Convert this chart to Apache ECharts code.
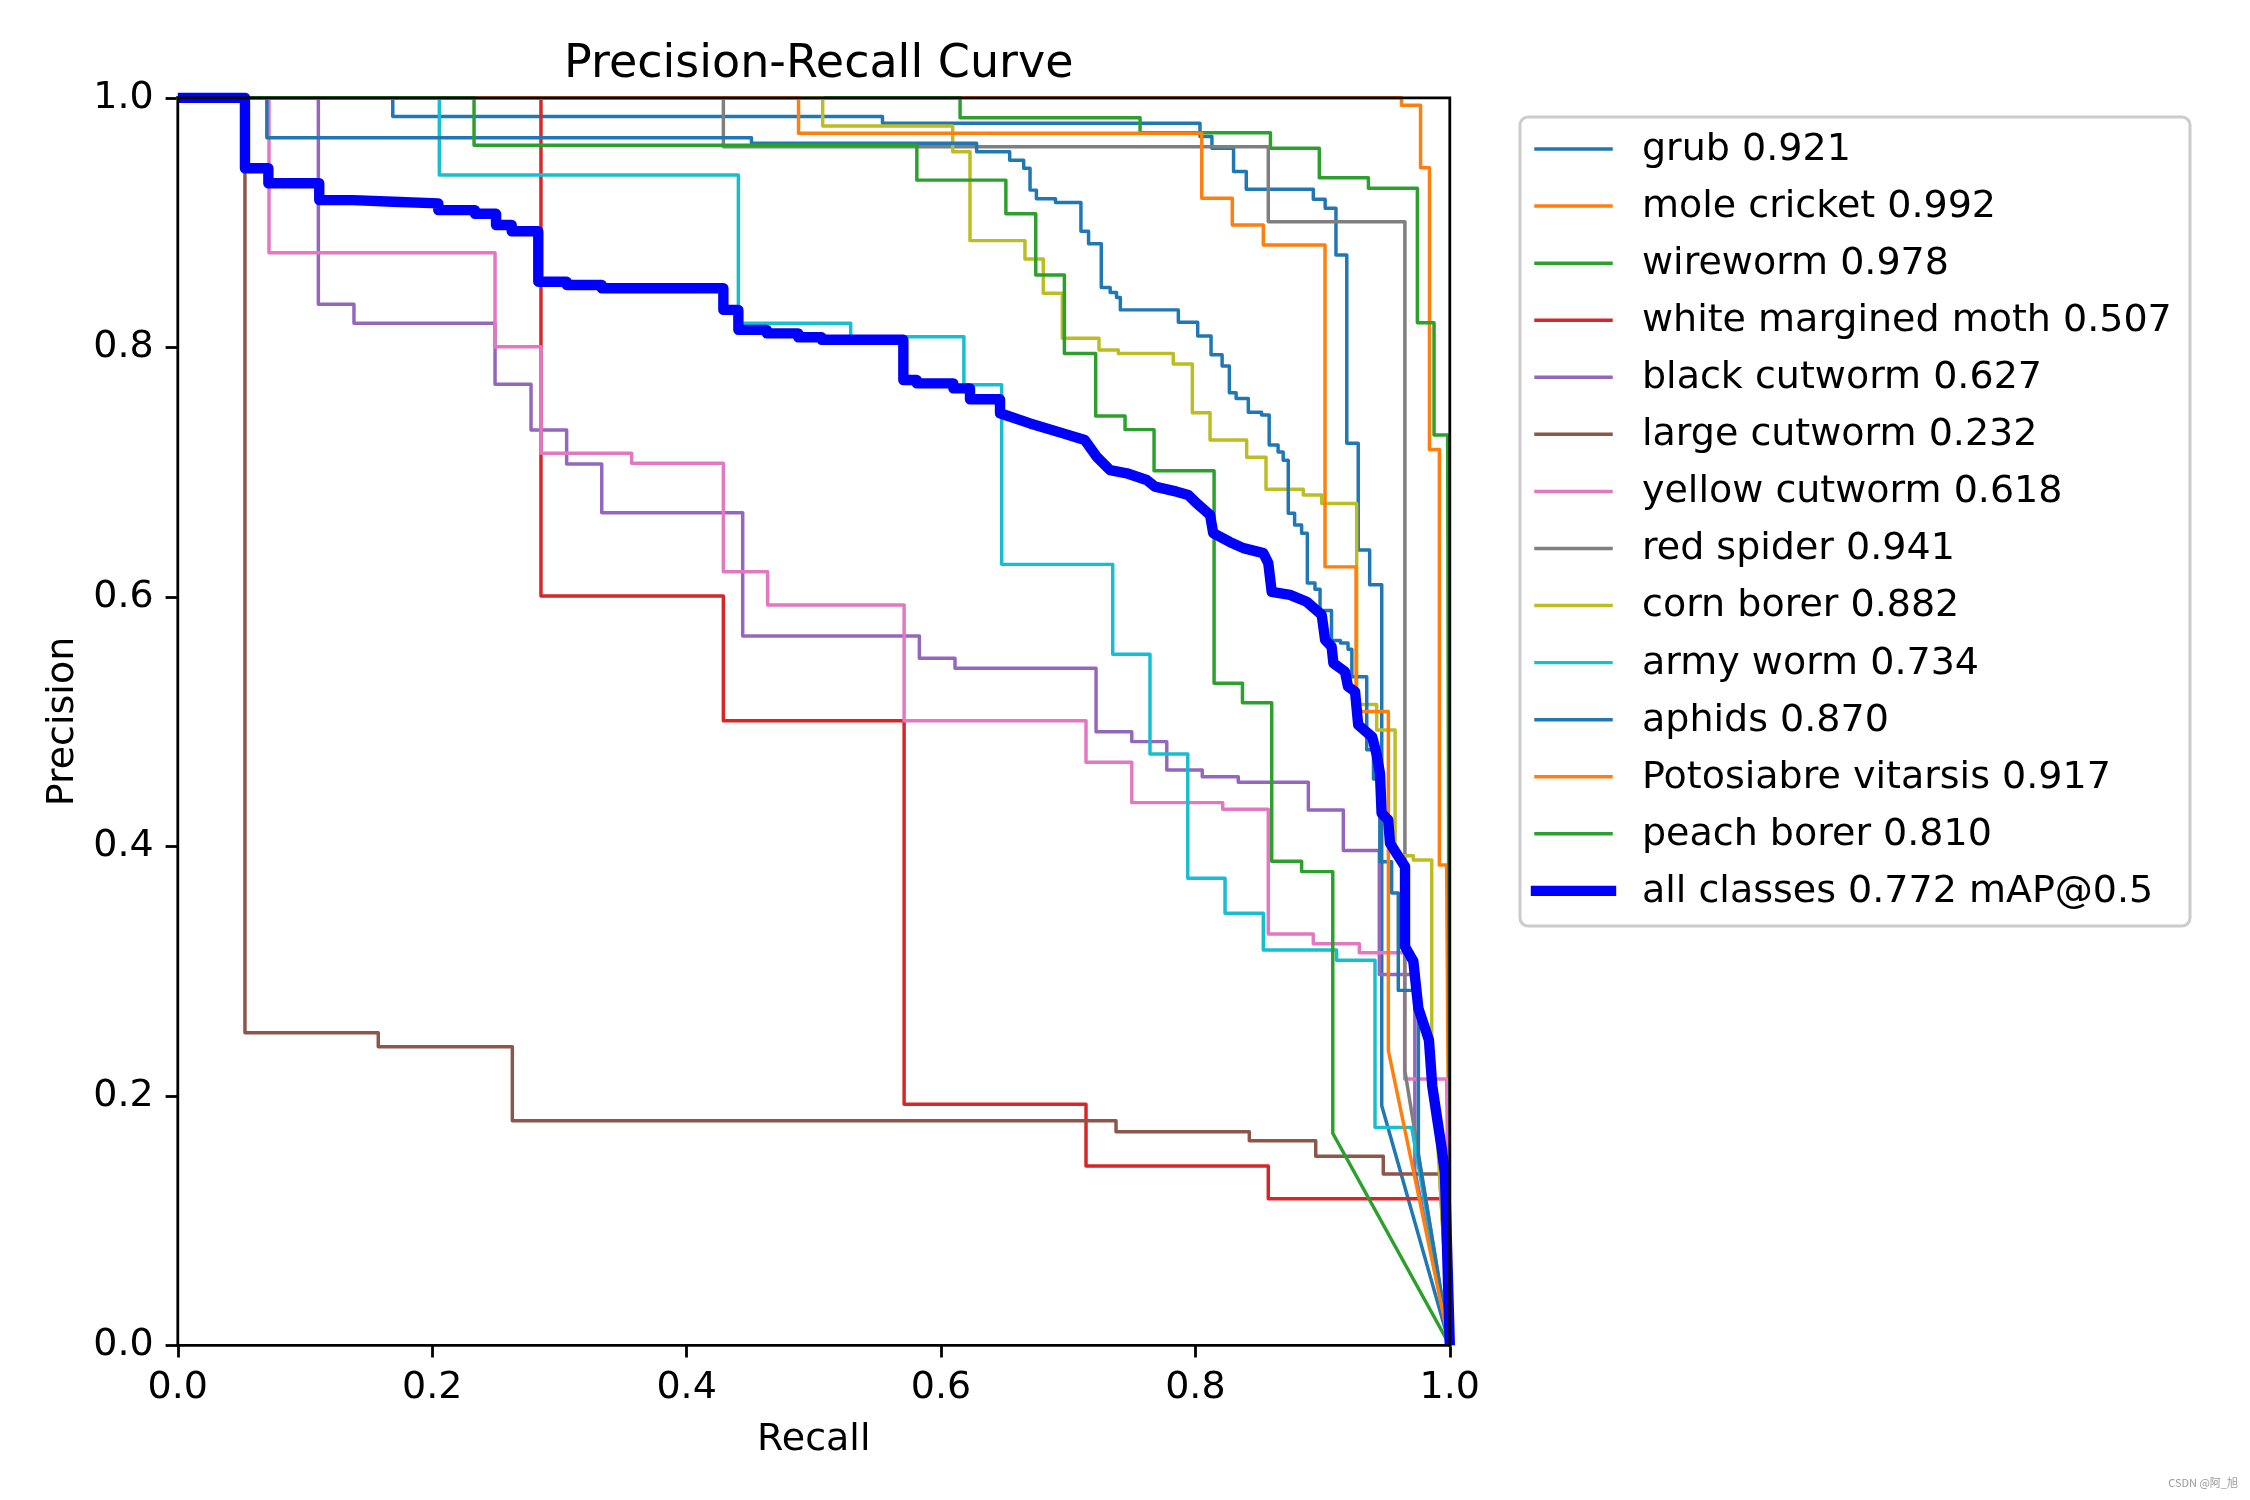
<!DOCTYPE html>
<html>
<head>
<meta charset="utf-8">
<script src="https://cdn.jsdelivr.net/npm/echarts@6/dist/echarts.min.js"></script>
<style>
  html, body { margin: 0; padding: 0; background: #ffffff; }
  #chart { width: 2250px; height: 1500px; }
</style>
</head>
<body>
<div id="chart"></div>
<script>
// ---------------- DATA ----------------
// Each class curve: list of [recall, precision] steps: at `recall` the precision drops to `precision`.
// Curves start at (0, 1); after the last step they hold until the end recall, then run straight to (1, 0).
const classNames = ['grub', 'mole cricket', 'wireworm', 'white margined moth', 'black cutworm',
  'large cutworm', 'yellow cutworm', 'red spider', 'corn borer', 'army worm', 'aphids',
  'Potosiabre vitarsis', 'peach borer'];
const classAP = ['0.921', '0.992', '0.978', '0.507', '0.627', '0.232', '0.618', '0.941',
  '0.882', '0.734', '0.870', '0.917', '0.810'];
const allClassesLabel = 'all classes 0.772 mAP@0.5';
const tickLabels = ['0.0', '0.2', '0.4', '0.6', '0.8', '1.0'];

const grubSteps = [[0.169, 0.985], [0.554, 0.9796], [0.8036, 0.969], [0.813, 0.9595], [0.830, 0.941],
  [0.840, 0.9267], [0.8927, 0.9186], [0.902, 0.9114], [0.9105, 0.874], [0.919, 0.723], [0.928, 0.6375],
  [0.937, 0.6096], [0.9465, 0.192]];
const moleCricketSteps = [[0.962, 0.994], [0.977, 0.944], [0.984, 0.718], [0.9918, 0.385]];
const wirewormSteps = [[0.615, 0.984], [0.7565, 0.972], [0.859, 0.9595], [0.8974, 0.936], [0.936, 0.9275],
  [0.9745, 0.8197], [0.9876, 0.7297]];
const mothSteps = [[0.2855, 0.6006], [0.4289, 0.5007], [0.571, 0.1932], [0.714, 0.1437], [0.8573, 0.1175]];
const blackCutwormSteps = [[0.1105, 0.8345], [0.1385, 0.8192], [0.2494, 0.7703], [0.2777, 0.7337],
  [0.3057, 0.7065], [0.3333, 0.6674], [0.4441, 0.5686], [0.583, 0.5507], [0.611, 0.5427], [0.7219, 0.4919],
  [0.750, 0.4839], [0.7775, 0.4612], [0.8054, 0.4558], [0.8337, 0.4513], [0.8888, 0.4291], [0.9163, 0.3966],
  [0.9446, 0.2973], [0.9725, 0.14]];
const largeCutwormSteps = [[0.0528, 0.2506], [0.1576, 0.2394], [0.263, 0.180], [0.7376, 0.1712],
  [0.8424, 0.164], [0.8946, 0.1516], [0.9477, 0.1373]];
const yellowCutwormSteps = [[0.0717, 0.8758], [0.2494, 0.8005], [0.2855, 0.715], [0.3568, 0.707],
  [0.4289, 0.620], [0.4637, 0.5934], [0.571, 0.5007], [0.714, 0.4673], [0.750, 0.435], [0.8215, 0.4297],
  [0.8573, 0.3297], [0.8927, 0.3219], [0.9289, 0.3147], [0.9645, 0.2135]];
const redSpiderSteps = [[0.4289, 0.9608], [0.8573, 0.9007], [0.9647, 0.2200]];
const cornBorerSteps = [[0.507, 0.9774], [0.6092, 0.9568], [0.6228, 0.8855], [0.666, 0.8708], [0.6804, 0.8433],
  [0.6954, 0.8072], [0.7242, 0.7978], [0.7394, 0.795], [0.7826, 0.7866], [0.7976, 0.7476], [0.8115, 0.7257],
  [0.8403, 0.7118], [0.8555, 0.6862], [0.8848, 0.6816], [0.8993, 0.6748], [0.9268, 0.5136], [0.9425, 0.4932],
  [0.957, 0.3925], [0.9713, 0.389], [0.9858, 0.24]];
const armyWormSteps = [[0.2056, 0.9381], [0.4407, 0.8192], [0.529, 0.8085], [0.618, 0.770], [0.6477, 0.626],
  [0.735, 0.554], [0.7643, 0.474], [0.794, 0.3744], [0.8233, 0.3463], [0.8534, 0.3169], [0.911, 0.3086],
  [0.9412, 0.1747]];
const aphidsSteps = [[0.070, 0.968], [0.451, 0.9636], [0.628, 0.9568], [0.654, 0.950], [0.665, 0.9435],
  [0.670, 0.926], [0.675, 0.919], [0.690, 0.916], [0.710, 0.893], [0.716, 0.883], [0.726, 0.848],
  [0.733, 0.844], [0.738, 0.840], [0.741, 0.830], [0.7866, 0.820], [0.8018, 0.809], [0.8123, 0.794],
  [0.821, 0.785], [0.8267, 0.7636], [0.832, 0.759], [0.8416, 0.748], [0.852, 0.7457], [0.858, 0.7217],
  [0.865, 0.716], [0.869, 0.7095], [0.873, 0.667], [0.878, 0.6575], [0.8835, 0.651], [0.888, 0.611],
  [0.894, 0.606], [0.898, 0.589], [0.907, 0.565], [0.914, 0.563], [0.920, 0.558], [0.923, 0.536],
  [0.9347, 0.4774], [0.940, 0.454], [0.945, 0.3876], [0.9543, 0.3626], [0.9595, 0.2845], [0.9753, 0.152]];
const potosiabreSteps = [[0.488, 0.9716], [0.805, 0.9195], [0.829, 0.898], [0.8534, 0.882], [0.9019, 0.624],
  [0.9263, 0.508], [0.9517, 0.2362]];
const peachBorerSteps = [[0.2329, 0.962], [0.581, 0.934], [0.651, 0.907], [0.6745, 0.858], [0.697, 0.795],
  [0.7216, 0.745], [0.7447, 0.734], [0.7675, 0.701], [0.8147, 0.5307], [0.837, 0.515], [0.860, 0.388],
  [0.8835, 0.3797], [0.908, 0.170]];

const classSteps = [grubSteps, moleCricketSteps, wirewormSteps, mothSteps, blackCutwormSteps,
  largeCutwormSteps, yellowCutwormSteps, redSpiderSteps, cornBorerSteps, armyWormSteps, aphidsSteps,
  potosiabreSteps, peachBorerSteps];
// recall where the last plateau ends (then straight to (1, 0))
const classEndRecall = [0.9465, 0.9975, 0.9983, 0.995, 0.9725, 0.992, 0.9975, 0.9647, 0.9858, 0.970,
  0.9753, 0.9517, 0.908];

// all classes mean curve, vertices as read
const allClasses = [[0, 1], [0.0528, 1], [0.0528, 0.9435], [0.0712, 0.9435], [0.0712, 0.9315],
  [0.1112, 0.9315], [0.1112, 0.918], [0.138, 0.918], [0.138, 0.9167], [0.1694, 0.9167], [0.1694, 0.9154],
  [0.2048, 0.9154], [0.2048, 0.910], [0.2336, 0.910], [0.2336, 0.907], [0.2502, 0.907], [0.2502, 0.898],
  [0.2625, 0.898], [0.2625, 0.893], [0.2834, 0.893], [0.2834, 0.8526], [0.3057, 0.8526], [0.3057, 0.850],
  [0.3333, 0.850], [0.3333, 0.8473], [0.4289, 0.8473], [0.4289, 0.830], [0.4407, 0.830], [0.4407, 0.814],
  [0.463, 0.814], [0.463, 0.8112], [0.4878, 0.8112], [0.4878, 0.808], [0.5062, 0.808], [0.5062, 0.806],
  [0.5704, 0.806], [0.5704, 0.7738], [0.5809, 0.7738], [0.5809, 0.7711], [0.6097, 0.7711], [0.6097, 0.7671],
  [0.6228, 0.7671], [0.6228, 0.7583], [0.6464, 0.7583], [0.6464, 0.7471], [0.670, 0.739], [0.696, 0.731],
  [0.713, 0.7257], [0.7224, 0.7123], [0.7329, 0.7016], [0.746, 0.699], [0.7617, 0.6936], [0.7682, 0.6883],
  [0.7853, 0.6843], [0.7944, 0.6816], [0.801, 0.675], [0.8115, 0.6656], [0.814, 0.651], [0.827, 0.644],
  [0.8377, 0.639], [0.8534, 0.635], [0.8573, 0.627], [0.860, 0.604], [0.8744, 0.6015], [0.8875, 0.596],
  [0.8993, 0.5855], [0.902, 0.5654], [0.9071, 0.560], [0.9085, 0.5467], [0.9176, 0.540], [0.920, 0.528],
  [0.9255, 0.524], [0.928, 0.4973], [0.9390, 0.4876], [0.9424, 0.474], [0.9451, 0.4585], [0.9464, 0.4265],
  [0.9516, 0.4211], [0.953, 0.4024], [0.958, 0.3944], [0.9648, 0.3837], [0.9648, 0.3195], [0.9713, 0.3080],
  [0.9753, 0.2700], [0.9836, 0.2447], [0.9862, 0.2079], [0.9901, 0.1814], [0.9936, 0.158], [0.9962, 0.138],
  [1.0, 0]];

// ---------------- STYLE ----------------
const tab10 = ['#1f77b4', '#ff7f0e', '#2ca02c', '#d62728', '#9467bd', '#8c564b', '#e377c2',
  '#7f7f7f', '#bcbd22', '#17becf'];
const FONT = 'DejaVu Sans';
const THIN = 3.47, THICK = 10.4;
const GRID = { left: 177.8, top: 97.8, width: 1272, height: 1247.5 };

function buildStepCurve(steps, endRecall) {
  const pts = [[0, 1]];
  let prev = 1;
  for (const [r, p] of steps) {
    pts.push([r, prev]);
    pts.push([r, p]);
    prev = p;
  }
  pts.push([endRecall, prev]);
  pts.push([1, 0]);
  return pts;
}

const series = classNames.map((name, i) => ({
  type: 'line',
  name: name + ' ' + classAP[i],
  data: buildStepCurve(classSteps[i], classEndRecall[i]),
  symbol: 'none',
  showSymbol: false,
  silent: true,
  animation: false,
  lineStyle: { color: tab10[i % 10], width: THIN, cap: 'square', join: 'round' },
  itemStyle: { color: tab10[i % 10] },
  z: 2
}));
series.push({
  type: 'line',
  name: allClassesLabel,
  data: allClasses,
  symbol: 'none',
  showSymbol: false,
  silent: true,
  animation: false,
  lineStyle: { color: '#0000ff', width: THICK, cap: 'butt', join: 'round' },
  itemStyle: { color: '#0000ff' },
  z: 3
});

// plot frame (spines) drawn above the curves, as in matplotlib
const graphics = [{
  type: 'rect',
  shape: { x: GRID.left, y: GRID.top, width: GRID.width, height: GRID.height },
  style: { fill: null, stroke: '#000', lineWidth: 2.8 },
  silent: true,
  z: 50
}];

// legend drawn as graphic elements (matplotlib-like box)
const legendLabels = classNames.map((n, i) => n + ' ' + classAP[i]).concat([allClassesLabel]);
const legendColors = classNames.map((n, i) => tab10[i % 10]).concat(['#0000ff']);
const LEG = { x: 1520, y: 117, w: 670, h: 809, hx0: 1536, hx1: 1611, tx: 1642, row0: 150, pitch: 57.07 };
graphics.push({
  type: 'rect',
  shape: { x: LEG.x, y: LEG.y, width: LEG.w, height: LEG.h, r: 8 },
  style: { fill: 'rgba(255,255,255,0.8)', stroke: '#cccccc', lineWidth: 3 },
  z: 10
});
legendLabels.forEach((lab, i) => {
  const yy = LEG.row0 + i * LEG.pitch;
  const thick = i === legendLabels.length - 1;
  graphics.push({
    type: 'line',
    shape: { x1: LEG.hx0, y1: yy - 1, x2: LEG.hx1, y2: yy - 1 },
    style: { stroke: legendColors[i], lineWidth: thick ? THICK : THIN, lineCap: 'square' },
    z: 11
  });
  graphics.push({
    type: 'text',
    style: { x: LEG.tx, y: yy, text: lab, fill: '#000', font: '38px "' + FONT + '"',
      textAlign: 'left', verticalAlign: 'middle', textVerticalAlign: 'middle' },
    z: 11
  });
});
graphics.push({
  type: 'text',
  style: { x: 2238, y: 1483, text: 'CSDN @阿_旭', fill: '#9a9a9a',
    font: '11px "Noto Sans CJK SC", "DejaVu Sans"', textAlign: 'right', verticalAlign: 'middle',
    textVerticalAlign: 'middle' },
  z: 11
});

const chart = echarts.init(document.getElementById('chart'), null, { renderer: 'canvas' });
chart.setOption({
  animation: false,
  backgroundColor: '#ffffff',
  textStyle: { fontFamily: FONT },
  title: {
    text: 'Precision-Recall Curve',
    left: GRID.left + GRID.width / 2,
    textAlign: 'center',
    top: 37,
    textStyle: { fontFamily: FONT, fontSize: 46, fontWeight: 'normal', color: '#000' }
  },
  grid: {
    left: GRID.left, top: GRID.top, width: GRID.width, height: GRID.height,
    show: false, containLabel: false, outerBoundsMode: 'none'
  },
  xAxis: {
    type: 'value', min: 0, max: 1, interval: 0.2,
    name: 'Recall', nameLocation: 'middle', nameGap: 76,
    nameTextStyle: { fontFamily: FONT, fontSize: 38, color: '#000' },
    axisLine: { show: false },
    axisTick: { show: true, inside: false, length: 12.2, lineStyle: { color: '#000', width: 2.8 } },
    axisLabel: {
      show: true, margin: 24, fontFamily: FONT, fontSize: 38, color: '#000', hideOverlap: false,
      showMinLabel: true, showMaxLabel: true,
      formatter: (v) => tickLabels[Math.round(v / 0.2)]
    },
    splitLine: { show: false }
  },
  yAxis: {
    type: 'value', min: 0, max: 1, interval: 0.2,
    name: 'Precision', nameLocation: 'middle', nameGap: 95, nameRotate: 90,
    nameTextStyle: { fontFamily: FONT, fontSize: 38, color: '#000' },
    axisLine: { show: false },
    axisTick: { show: true, inside: false, length: 12.2, lineStyle: { color: '#000', width: 2.8 } },
    axisLabel: {
      show: true, margin: 24, fontFamily: FONT, fontSize: 38, color: '#000', hideOverlap: false,
      showMinLabel: true, showMaxLabel: true, padding: [5, 0, 0, 0],
      formatter: (v) => tickLabels[Math.round(v / 0.2)]
    },
    splitLine: { show: false }
  },
  tooltip: { show: false },
  series: series,
  graphic: { elements: graphics }
});
</script>
</body>
</html>
